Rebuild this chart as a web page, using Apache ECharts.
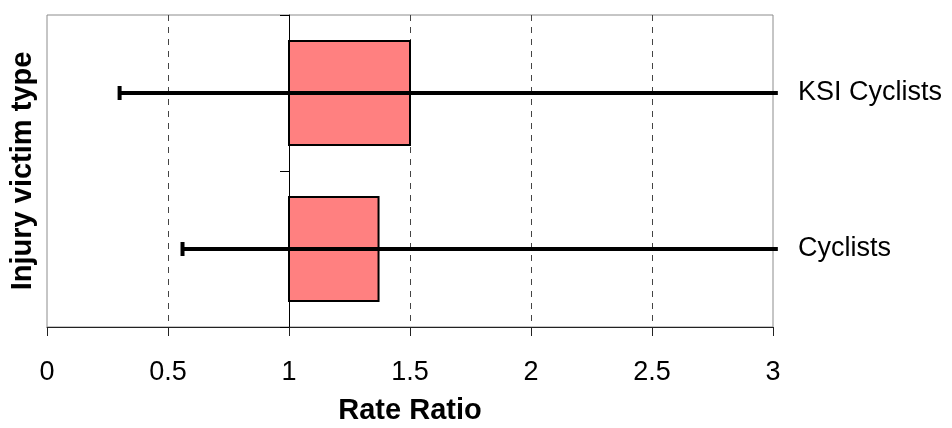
<!DOCTYPE html>
<html>
<head>
<meta charset="utf-8">
<script src="https://cdn.jsdelivr.net/npm/echarts@6/dist/echarts.min.js"></script>
<style>html,body{margin:0;padding:0;background:#fff}#c{width:952px;height:428px}</style>
</head>
<body>
<div id="c"></div>
<script>
// Data
var categories = ['Cyclists', 'KSI Cyclists'];      // bottom to top
var rateRatio = [1.37, 1.5];                        // bar end (bars start at 1)
var barBase = 1;
var ciLower = [0.56, 0.3];
var ciUpper = [3.02, 3.02];                         // runs off the right edge
var xTicks = [0, 0.5, 1, 1.5, 2, 2.5, 3];

var chart = echarts.init(document.getElementById('c'));
var font = 'Liberation Sans, Arial, sans-serif';

var barData = categories.map(function (c, i) { return [barBase, rateRatio[i], i]; });
var ciData = categories.map(function (c, i) { return [ciLower[i], ciUpper[i], i]; });

chart.setOption({
  animation: false,
  grid: { left: 47, right: 179, top: 15, bottom: 101, show: true, borderColor: '#8c8c8c', borderWidth: 1,
          containLabel: false, outerBoundsMode: 'none' },
  xAxis: {
    type: 'value', min: xTicks[0], max: xTicks[xTicks.length - 1], interval: 0.5,
    name: 'Rate Ratio', nameLocation: 'middle', nameGap: 69,
    nameTextStyle: { fontFamily: font, fontSize: 29, fontWeight: 'bold', color: '#000' },
    axisLine: { show: true, onZero: false, lineStyle: { color: '#222', width: 1 } },
    axisTick: { show: true, length: 9, lineStyle: { color: '#222' } },
    axisLabel: { margin: 32, fontFamily: font, fontSize: 27, color: '#000' },
    splitLine: { show: true, showMinLine: false, showMaxLine: false, lineStyle: { type: [6, 6], color: '#444', width: 1 } }
  },
  yAxis: [{
    type: 'category', data: categories, position: 'left', offset: -242,
    name: 'Injury victim type', nameLocation: 'middle', nameGap: 252, nameRotate: 90,
    nameTextStyle: { fontFamily: font, fontSize: 29, fontWeight: 'bold', color: '#000' },
    axisLine: { show: true, lineStyle: { color: '#000', width: 1 } },
    axisTick: { show: true, length: 9, lineStyle: { color: '#000' } },
    axisLabel: { show: false },
    splitLine: { show: false }
  }, {
    type: 'category', data: categories, position: 'right',
    axisLine: { show: false }, axisTick: { show: false },
    axisLabel: { margin: 25, fontFamily: font, fontSize: 27, color: '#000' },
    splitLine: { show: false }
  }],
  series: [{
    type: 'custom', name: 'Rate ratio',
    data: barData,
    encode: { x: [0, 1], y: 2 },
    renderItem: function (params, api) {
      var p0 = api.coord([api.value(0), api.value(2)]);
      var p1 = api.coord([api.value(1), api.value(2)]);
      var h = api.size([0, 1])[1] * 2 / 3;
      return {
        type: 'rect',
        shape: { x: p0[0], y: p0[1] - h / 2, width: p1[0] - p0[0], height: h },
        style: { fill: '#FF8080', stroke: '#000', lineWidth: 2 }
      };
    },
    z: 3
  }, {
    type: 'custom', name: 'CI',
    data: ciData, clip: false,
    encode: { x: [0, 1], y: 2 },
    renderItem: function (params, api) {
      var p0 = api.coord([api.value(0), api.value(2)]);
      var p1 = api.coord([api.value(1), api.value(2)]);
      return {
        type: 'group',
        children: [{
          type: 'line',
          shape: { x1: p0[0], y1: p0[1], x2: p1[0], y2: p1[1] },
          style: { stroke: '#000', lineWidth: 4 }
        }, {
          type: 'line',
          shape: { x1: p0[0], y1: p0[1] - 7, x2: p0[0], y2: p0[1] + 7 },
          style: { stroke: '#000', lineWidth: 4 }
        }]
      };
    },
    z: 4
  }]
});
</script>
</body>
</html>
